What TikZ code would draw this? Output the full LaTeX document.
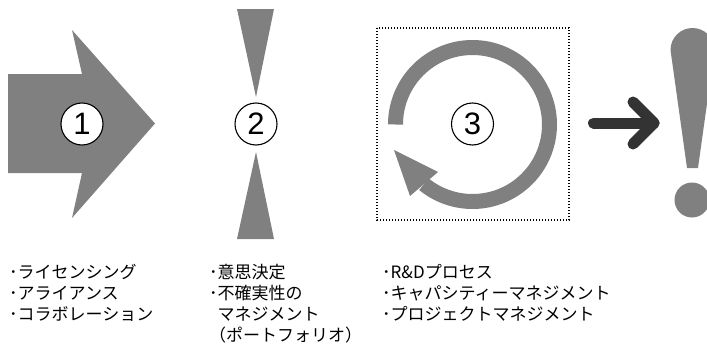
\documentclass[tikz,border=0pt]{standalone}
\usepackage{fontspec}
\newfontfamily\jpfont{Noto Sans CJK JP}
\newfontfamily\numfont{Liberation Sans}
\definecolor{shapegray}{HTML}{808080}
\definecolor{darkarrow}{HTML}{333333}
\begin{document}
\begin{tikzpicture}[x=1pt,y=1pt,
  graysh/.style={fill=shapegray, draw=none},
  numcirc/.style={circle, draw=black, line width=1.1pt, fill=white, minimum size=42pt, inner sep=0pt, font=\numfont\fontsize{31}{31}\selectfont},
  txt/.style={anchor=base west, inner sep=0pt, font=\jpfont\fontsize{17}{21}\selectfont}]
\useasboundingbox (0,0) rectangle (707,-348);
\clip (0,0) rectangle (707,-348);
% 1: big arrow
\fill[graysh] (8,-74) -- (82,-74) -- (72,-30) -- (155,-123.5) -- (72,-218) -- (82,-173) -- (8,-173) -- cycle;
\node[numcirc] (c1) at (82,-124) {1};
% 2: hourglass
\fill[graysh] (237,-9) -- (274,-9) -- (256,-97) -- cycle;
\fill[graysh] (237,-239) -- (274,-239) -- (256,-152) -- cycle;
\node[numcirc] (c2) at (256,-124) {2};
% 3: cycle
\draw[black, line width=1.3pt, dash pattern=on 1.4pt off 1.6pt] (377,-28) rectangle (569,-220);
\draw[shapegray, line width=15pt] (395.5,-124.5) arc[start angle=180, end angle=-129.2, radius=77];
\fill[graysh] (394,-150) -- (410,-196) -- (438,-172) -- cycle;
\node[numcirc] (c3) at (472.5,-124) {3};
% dark arrow
\draw[darkarrow, line width=11pt, line cap=round, line join=round] (593.5,-123) -- (654,-123);
\draw[darkarrow, line width=11pt, line cap=round, line join=round] (633,-102) -- (654,-123) -- (633,-144);
% exclamation
\fill[graysh] (687,-168) -- (670.5,-50) arc[start angle=180, end angle=0, radius=22] -- (698,-168) -- cycle;
\fill[graysh] (692,-200) circle[radius=17.5];
% texts
\node[txt] (t11) at (9,-278) {･ライセンシング};
\node[txt] (t12) at (9,-299) {･アライアンス};
\node[txt] (t13) at (9,-320) {･コラボレーション};
\node[txt] (t21) at (209,-278) {･意思決定};
\node[txt] (t22) at (209,-299) {･不確実性の};
\node[txt] (t23) at (217.5,-320) {マネジメント};
\node[txt] (t24) at (209,-341) {（ポートフォリオ）};
\node[txt] (t31) at (382,-278) {･R\&Dプロセス};
\node[txt] (t32) at (382,-299) {･キャパシティーマネジメント};
\node[txt] (t33) at (382,-320) {･プロジェクトマネジメント};
\end{tikzpicture}
\end{document}
